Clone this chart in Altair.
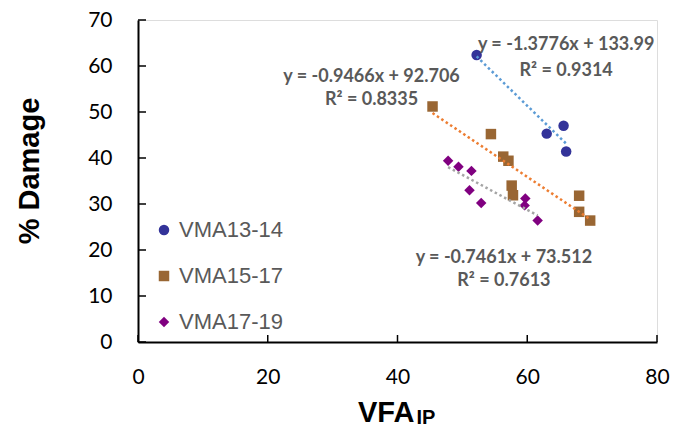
import altair as alt
import pandas as pd

series_names = ["VMA13-14", "VMA15-17", "VMA17-19"]
vma13_x = [52.2, 63.0, 65.6, 66.0]
vma13_y = [62.4, 45.3, 47.0, 41.4]
vma15_x = [45.4, 54.4, 56.3, 57.1, 57.6, 57.8, 68.0, 68.0, 69.7]
vma15_y = [51.2, 45.2, 40.3, 39.4, 34.0, 31.9, 31.8, 28.3, 26.4]
vma17_x = [47.8, 49.4, 51.4, 51.1, 52.9, 59.7, 59.6, 61.6]
vma17_y = [39.4, 38.1, 37.2, 33.0, 30.2, 31.2, 29.7, 26.4]

x_ticks = [0, 20, 40, 60, 80]
y_ticks = [0, 10, 20, 30, 40, 50, 60, 70]

eq_labels = ["y = -1.3776x + 133.99", "R² = 0.9314",
             "y = -0.9466x + 92.706", "R² = 0.8335",
             "y = -0.7461x + 73.512", "R² = 0.7613"]
eq_x = [66.0, 66.0, 36.0, 36.0, 56.4, 56.4]
eq_y = [63.5, 57.9, 56.5, 51.5, 17.2, 12.1]

point_colors = ["#333399", "#996633", "#800080"]
line_colors = ["#5B9BD5", "#ED7D31", "#A5A5A5"]
shapes = ["circle", "square", "diamond"]
sizes = [110, 110, 165]

rows = []
for name, xs, ys in [(series_names[0], vma13_x, vma13_y),
                     (series_names[1], vma15_x, vma15_y),
                     (series_names[2], vma17_x, vma17_y)]:
    for a, b in zip(xs, ys):
        rows.append({"series": name, "x": a, "y": b})
df = pd.DataFrame(rows)
eq_df = pd.DataFrame({"label": eq_labels, "x": eq_x, "y": eq_y})

W, H = 519, 322
xscale = alt.Scale(domain=[0, 80], nice=False)
yscale = alt.Scale(domain=[0, 70], nice=False)

xaxis = alt.Axis(values=x_ticks, grid=False, ticks=False, tickSize=0, title=None,
                 labelFont="Lato", labelFontSize=21, labelColor="black", labelFlush=False,
                 labelPadding=24, domainColor="black", domainWidth=2)
yaxis = alt.Axis(values=y_ticks, grid=False, ticks=False, tickSize=0, title=None,
                 labelFont="Lato", labelFontSize=21, labelColor="black", labelFlush=False,
                 labelPadding=26, domainColor="black", domainWidth=2)

def leg():
    return alt.Legend(title=None, orient="none", legendX=15, legendY=199,
                      labelFont="Liberation Sans", labelFontSize=22, labelColor="#595959",
                      rowPadding=24, labelOffset=4, padding=0, symbolOpacity=1,
                      symbolStrokeWidth=0)

points = alt.Chart(df).mark_point(filled=True, opacity=1).encode(
    x=alt.X("x:Q", scale=xscale, axis=xaxis),
    y=alt.Y("y:Q", scale=yscale, axis=yaxis),
    color=alt.Color("series:N", scale=alt.Scale(domain=series_names, range=point_colors),
                    legend=leg()),
    shape=alt.Shape("series:N", scale=alt.Scale(domain=series_names, range=shapes),
                    legend=leg()),
    size=alt.Size("series:N", scale=alt.Scale(domain=series_names, range=sizes),
                  legend=leg()),
)

lines = alt.Chart(df).transform_regression(
    "x", "y", groupby=["series"]
).mark_line(strokeWidth=2.5, strokeDash=[2.5, 2.8]).encode(
    x=alt.X("x:Q", scale=xscale),
    y=alt.Y("y:Q", scale=yscale),
    stroke=alt.Stroke("series:N", scale=alt.Scale(domain=series_names, range=line_colors),
                      legend=None),
)

eqs = alt.Chart(eq_df).mark_text(font="Lato", fontWeight="bold", fontSize=18,
                                 color="#595959", align="center",
                                 baseline="alphabetic").encode(
    x=alt.X("x:Q", scale=xscale),
    y=alt.Y("y:Q", scale=yscale),
    text="label:N",
)

ytick_df = pd.DataFrame({"v": y_ticks})
xtick_df = pd.DataFrame({"v": x_ticks})
yticks = alt.Chart(ytick_df).mark_rule(color="black", strokeWidth=1.5).encode(
    y=alt.Y("v:Q", scale=yscale), x=alt.value(0), x2=alt.value(8))
xticks = alt.Chart(xtick_df).mark_rule(color="black", strokeWidth=1.5).encode(
    x=alt.X("v:Q", scale=xscale), y=alt.value(H), y2=alt.value(H - 7))

one = alt.Data(values=[{}])
ytitle = alt.Chart(one).mark_text(text="% Damage", font="Liberation Sans", fontWeight="bold",
                                  fontSize=29, angle=270, align="center", baseline="middle",
                                  color="black").encode(
    x=alt.value(-108), y=alt.value(151))
xtitle = alt.Chart(one).mark_text(text="VFA", font="Liberation Sans", fontWeight="bold",
                                  fontSize=29, align="left", baseline="alphabetic",
                                  color="black").encode(
    x=alt.value(220), y=alt.value(402))
xsub = alt.Chart(one).mark_text(text="IP", font="Liberation Sans", fontWeight="bold",
                                fontSize=20, align="left", baseline="alphabetic",
                                color="black").encode(
    x=alt.value(278.5), y=alt.value(404))

chart = alt.layer(points, lines, eqs, yticks, xticks, ytitle, xtitle, xsub).properties(
    width=W, height=H, autosize="none",
    padding={"left": 130, "top": 12, "right": 13, "bottom": 86},
).configure_view(
    stroke="#595959", strokeWidth=1.5
).configure(background="white")

chart.save("out.html", embed_options={"renderer": "svg", "actions": False})
